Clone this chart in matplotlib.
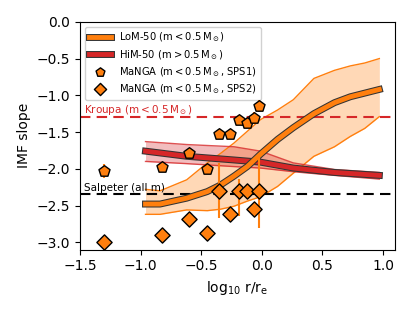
import matplotlib
matplotlib.use("Agg")
import matplotlib.pyplot as plt
import matplotlib.patheffects as pe
import numpy as np

# LoM-50 (m < 0.5 Msun)
lom_x = [-0.96, -0.84, -0.62, -0.45, -0.34, -0.23, -0.12, -0.01, 0.13, 0.26, 0.43, 0.60, 0.73, 0.85, 0.97]
lom_med = [-2.48, -2.48, -2.40, -2.31, -2.22, -2.10, -1.97, -1.80, -1.60, -1.44, -1.25, -1.10, -1.02, -0.97, -0.92]
lom_hi = [-2.28, -2.30, -2.15, -1.92, -1.79, -1.65, -1.49, -1.33, -1.20, -1.06, -0.77, -0.66, -0.60, -0.56, -0.50]
lom_lo = [-2.62, -2.62, -2.56, -2.57, -2.55, -2.51, -2.44, -2.38, -2.24, -2.06, -1.83, -1.70, -1.56, -1.45, -1.29]

# HiM-50 (m > 0.5 Msun)
him_x = [-0.96, -0.62, -0.23, -0.01, 0.26, 0.60, 0.97]
him_med = [-1.76, -1.83, -1.88, -1.91, -1.99, -2.05, -2.09]
him_hi = [-1.63, -1.67, -1.70, -1.76, -1.92, -2.01, -2.05]
him_lo = [-1.90, -1.93, -1.97, -1.99, -2.04, -2.09, -2.14]

# MaNGA
mx = [-1.30, -0.82, -0.60, -0.455, -0.35, -0.26, -0.19, -0.125, -0.065, -0.02]
sps1 = [-2.03, -1.98, -1.79, -2.00, -1.53, -1.53, -1.33, -1.38, -1.31, -1.15]
sps1_err = [0.10, 0.03, 0.03, 0.03, 0.03, 0.03, 0.06, 0.05, 0.08, 0.08]
sps2 = [-2.99, -2.90, -2.68, -2.88, -2.30, -2.62, -2.30, -2.30, -2.55, -2.30]
sps2_lo = [0, 0, 0, 0, 0.37, 0, 0.34, 0, 0, 0.50]
sps2_hi = [0, 0, 0, 0, 0.38, 0, 0.16, 0, 0, 0.51]

orange = '#ff7f0e'
red = '#d62728'

fig, ax = plt.subplots(figsize=(4.15, 3.12), dpi=100)
fig.subplots_adjust(left=0.193, right=0.952, top=0.93, bottom=0.2)

ax.fill_between(lom_x, lom_lo, lom_hi, color=orange, alpha=0.3, lw=0)
ax.plot(lom_x, lom_hi, color=orange, lw=1)
ax.plot(lom_x, lom_lo, color=orange, lw=1)
ax.fill_between(him_x, him_lo, him_hi, color=red, alpha=0.3, lw=0)
ax.plot(him_x, him_hi, color=red, lw=1, alpha=0.8)
ax.plot(him_x, him_lo, color=red, lw=1, alpha=0.8)

stroke = [pe.Stroke(linewidth=5, foreground='#333333'), pe.Normal()]
l1, = ax.plot(lom_x, lom_med, color=orange, lw=3.5, path_effects=stroke,
              label=r'LoM-50 ($\rm m<0.5\,M_\odot$)', zorder=5)
l2, = ax.plot(him_x, him_med, color=red, lw=3.5, path_effects=stroke,
              label=r'HiM-50 ($\rm m>0.5\,M_\odot$)', zorder=4)

ax.axhline(-1.3, color=red, ls='--', lw=1.5, dashes=(5, 3))
ax.axhline(-2.35, color='black', ls='--', lw=1.5, dashes=(5, 3))
ax.text(-1.47, -1.24, r'Kroupa ($\rm m<0.5\,M_\odot$)', color=red, fontsize=7.5)
ax.text(-1.47, -2.30, 'Salpeter (all m)', color='black', fontsize=7.5)

ax.errorbar(mx, sps1, yerr=sps1_err, fmt='none', ecolor=orange, lw=1.5, zorder=6)
ax.errorbar(mx, sps2, yerr=[sps2_lo, sps2_hi], fmt='none', ecolor=orange, lw=1.5, zorder=6)
p1 = ax.scatter(mx, sps1, marker='p', s=70, c=orange, edgecolors='black', lw=1,
                label=r'MaNGA ($\rm m<0.5\,M_\odot$, SPS1)', zorder=7)
p2 = ax.scatter(mx, sps2, marker='D', s=60, c=orange, edgecolors='black', lw=1,
                label=r'MaNGA ($\rm m<0.5\,M_\odot$, SPS2)', zorder=7)

ax.set_xlim(-1.5, 1.1)
ax.set_ylim(-3.1, 0)
ax.set_xticks([-1.5, -1.0, -0.5, 0.0, 0.5, 1.0])
ax.set_yticks([-3.0, -2.5, -2.0, -1.5, -1.0, -0.5, 0.0])
ax.tick_params(labelsize=10)
ax.set_xlabel(r'$\log_{10}\,\rm r/r_e$', fontsize=10)
ax.set_ylabel('IMF slope', fontsize=10)
ax.legend(handles=[l1, l2, p1, p2], loc='upper left', fontsize=7.2, framealpha=0.9,
          labelspacing=0.35, markerscale=0.8, borderpad=0.4, handlelength=2.2)

plt.savefig('out.png', dpi=100)
